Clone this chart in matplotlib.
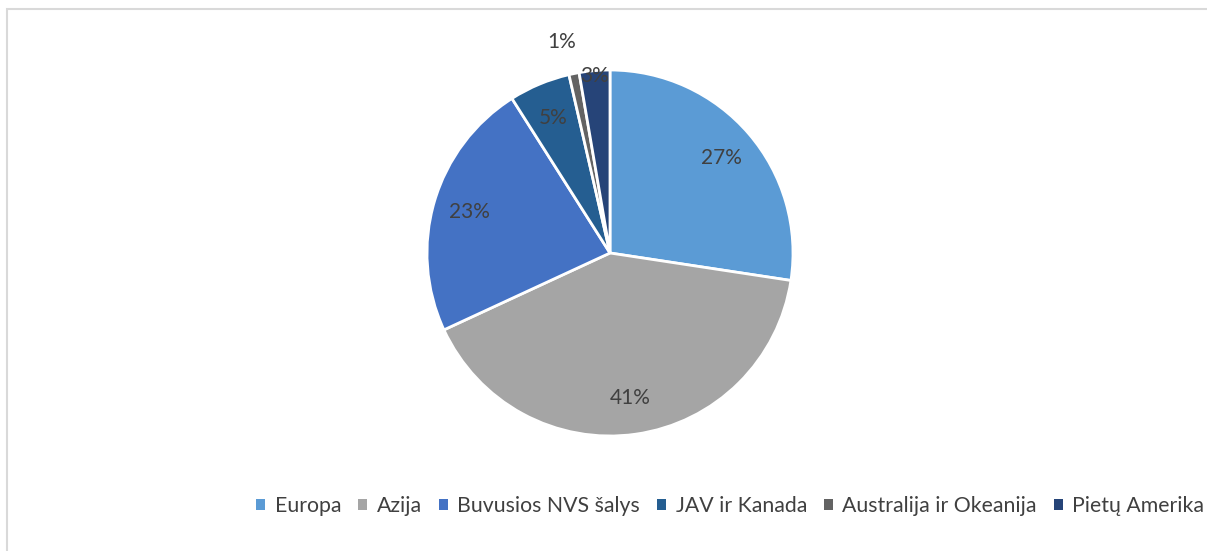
import numpy as np
import matplotlib.pyplot as plt
from matplotlib.patches import Patch, Rectangle

# regions and their shares (percent)
regions = ["Europa", "Azija", "Buvusios NVS šalys", "JAV ir Kanada",
           "Australija ir Okeanija", "Pietų Amerika"]
shares = [27.4, 40.7, 22.9, 5.4, 0.9, 2.7]
colors = ["#5B9BD5", "#A5A5A5", "#4472C4", "#255E91", "#636363", "#264478"]

plt.rcParams['font.family'] = ['Lato', 'DejaVu Sans']
txtcol = "#404040"

W, H = 1207, 551
fig = plt.figure(figsize=(W / 100, H / 100), dpi=100)

# chart frame
fig.patches.append(Rectangle((6.5 / W, -0.1), 1.2, 1 - 8.5 / H + 0.1,
                             transform=fig.transFigure, fill=False,
                             edgecolor="#D9D9D9", linewidth=1.5))

cx, cy, r = 610, 253, 183
ax = fig.add_axes([(cx - r) / W, (H - cy - r) / H, 2 * r / W, 2 * r / H])
wedges, texts, autotexts = ax.pie(
    shares, colors=colors, startangle=90, counterclock=False,
    autopct=lambda p: "%d%%" % round(p), pctdistance=0.8,
    wedgeprops=dict(edgecolor="white", linewidth=2),
    textprops=dict(color=txtcol, fontsize=15))
ax.set_aspect("equal")
ax.set_xlim(-1, 1)
ax.set_ylim(-1, 1)

# small slices: labels pushed outward like in the original
for i, dist, shift in [(4, 1.18, 1.5), (5, 0.97, 0)]:
    w = wedges[i]
    ang = np.deg2rad((w.theta1 + w.theta2) / 2 + shift)
    autotexts[i].set_position((dist * np.cos(ang), dist * np.sin(ang)))

handles = [Patch(facecolor=c, edgecolor="none") for c in colors]
fig.legend(handles, regions, loc="center left", ncol=6,
           bbox_to_anchor=(252 / W, 1 - 506 / H), frameon=False,
           fontsize=15.3, labelcolor=txtcol, handlelength=0.42,
           handleheight=0.42, handletextpad=0.45, columnspacing=0.8,
           borderaxespad=0, borderpad=0.2)

fig.savefig("out.png", dpi=100)
